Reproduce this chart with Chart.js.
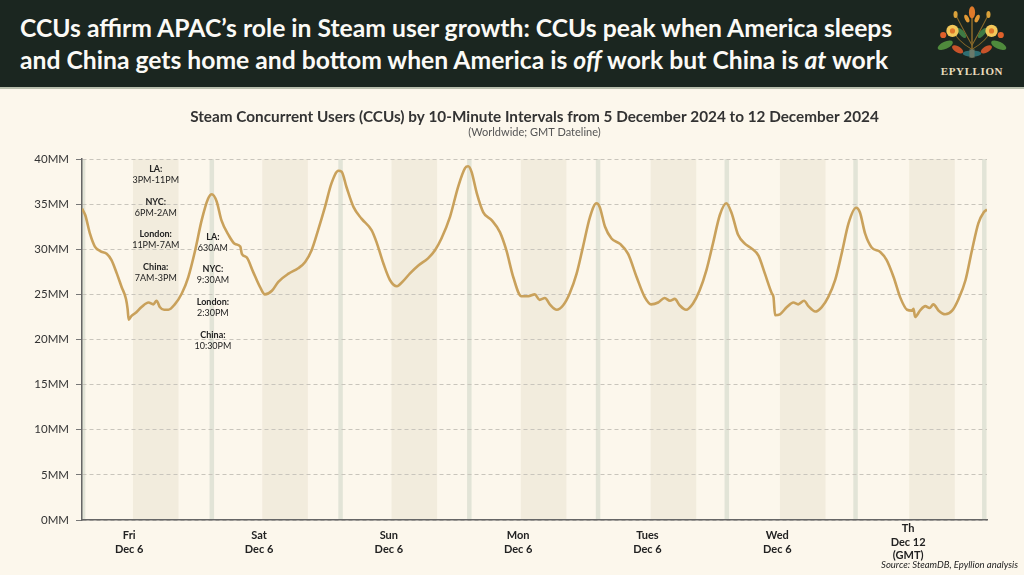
<!DOCTYPE html>
<html><head><meta charset="utf-8">
<script src="https://cdn.jsdelivr.net/npm/chart.js@4.4.1/dist/chart.umd.min.js"></script>
<style>
html,body{margin:0;padding:0}
body{width:1024px;height:575px;background:#fcf7ec;position:relative;overflow:hidden;font-family:Lato,"Open Sans",sans-serif}
#hdr{position:absolute;left:0;top:0;width:1024px;height:87px;background:#1b2620;border-bottom:2px solid #b9bfae;z-index:2}
#ttl{position:absolute;left:20px;top:12px;color:#fbfaf6;font-weight:700;font-size:24.7px;line-height:32px;white-space:nowrap}
#logo{position:absolute;left:935px;top:4px}
#brand{position:absolute;left:932px;top:65px;width:80px;text-align:center;color:#e9dcbc;font:700 11px "Liberation Serif",serif;letter-spacing:0.6px}
#src{position:absolute;right:6px;top:559px;font-style:italic;font-size:9.5px;color:#222}
#c{position:absolute;left:0;top:0}
</style></head>
<body>
<div id="hdr">
  <div id="ttl">CCUs affirm APAC’s role in Steam user growth: CCUs peak when America sleeps<br>and China gets home and bottom when America is <em>off</em> work but China is <em>at</em> work</div>
  <svg id="logo" width="74" height="60" viewBox="0 0 72 58">
    <path d="M36 52 L36 6" stroke="#8a6a2a" stroke-width="1.5"/>
    <path d="M36 44 Q22 36 16 24 M36 44 Q50 36 56 24 M36 40 Q26 22 20 10 M36 40 Q46 22 52 10" stroke="#8a6a2a" stroke-width="1" fill="none"/>
    <ellipse cx="36" cy="8" rx="3" ry="6" fill="#e07a2a"/>
    <ellipse cx="31" cy="14" rx="2" ry="4" fill="#e39a35" transform="rotate(-25 31 14)"/>
    <ellipse cx="41" cy="14" rx="2" ry="4" fill="#e39a35" transform="rotate(25 41 14)"/>
    <ellipse cx="20" cy="10" rx="2" ry="3.5" fill="#d9a13a"/>
    <ellipse cx="52" cy="10" rx="2" ry="3.5" fill="#d9a13a"/>
    <ellipse cx="10" cy="40" rx="8" ry="3.5" fill="#4f8a3c" transform="rotate(-25 10 40)"/>
    <ellipse cx="62" cy="40" rx="8" ry="3.5" fill="#4f8a3c" transform="rotate(25 62 40)"/>
    <ellipse cx="26" cy="28" rx="6" ry="2.5" fill="#3f7a44" transform="rotate(50 26 28)"/>
    <ellipse cx="46" cy="28" rx="6" ry="2.5" fill="#3f7a44" transform="rotate(-50 46 28)"/>
    <ellipse cx="22" cy="44" rx="6" ry="3" fill="#c8532a" transform="rotate(30 22 44)"/>
    <ellipse cx="50" cy="44" rx="6" ry="3" fill="#c8532a" transform="rotate(-30 50 44)"/>
    <ellipse cx="36" cy="48" rx="9" ry="3" fill="#2f6f73"/>
    <circle cx="17" cy="26" r="6" fill="#f3c85a"/><circle cx="17" cy="26" r="2.5" fill="#e0782a"/>
    <circle cx="55" cy="26" r="6" fill="#f3c85a"/><circle cx="55" cy="26" r="2.5" fill="#e0782a"/>
    <circle cx="8" cy="30" r="3" fill="#e0602a"/><circle cx="64" cy="30" r="3" fill="#e0602a"/>
    <rect x="33.5" y="44" width="5" height="8" fill="#6b7a6a"/>
  </svg>
  <div id="brand">EPYLLION</div>
</div>
<canvas id="c" width="1024" height="575"></canvas>
<div id="src">Source: SteamDB, Epyllion analysis</div>
<script>
// hours since the first day marker (Dec 5, ~14:30 GMT)
const hours = [-0.2,0.4,1.3,2.2,3.2,4.4,5.3,6.3,7.2,8.0,8.3,8.5,9.0,9.7,10.9,12.2,13.1,13.7,14.3,15.1,15.9,17.1,18.4,19.6,20.9,22.1,23.3,24.0,24.9,25.8,27.1,28.3,29.3,29.6,30.5,31.7,33.0,33.9,35.2,36.4,38.3,40.1,41.4,42.6,43.8,45.1,46.3,47.6,48.2,49.1,50.4,51.9,53.8,54.7,56.0,57.2,58.5,59.7,60.9,62.5,64.3,65.6,66.8,68.4,69.9,71.2,71.8,72.4,73.4,74.6,76.2,77.7,78.9,80.2,81.7,83.0,84.2,85.1,86.1,87.0,88.3,89.5,90.7,92.0,93.2,94.5,95.7,96.3,97.3,98.5,100.1,101.6,103.2,104.7,105.9,107.2,108.4,109.4,110.3,111.2,112.4,113.7,114.9,116.2,117.4,118.7,119.9,120.9,122.1,123.4,124.6,125.9,127.1,128.4,128.7,129.0,129.9,131.2,132.4,133.3,134.4,135.2,136.5,137.7,138.9,140.2,141.4,142.7,144.1,144.8,145.8,147.0,148.6,149.8,151.1,152.3,153.6,154.5,154.8,155.1,156.0,157.0,157.8,158.5,159.5,160.7,162.0,163.2,164.5,165.7,166.9,167.9,168.5];
// concurrent users, millions
const ccuMM = [34.5,33.8,31.7,30.3,29.8,29.5,28.8,27.3,25.8,24.5,23.4,22.2,22.6,22.9,23.6,24.1,23.9,24.3,23.6,23.3,23.3,23.9,25.1,26.9,29.9,33.2,35.6,36.1,35.3,33.2,31.6,30.6,30.3,29.5,29.1,27.5,25.8,25.0,25.4,26.4,27.3,27.9,28.6,29.9,32.1,34.7,37.3,38.7,38.6,36.9,34.7,33.4,32.1,30.8,28.4,26.6,25.9,26.5,27.3,28.2,29.0,29.9,31.2,33.6,36.9,39.0,39.2,38.6,36.2,34.1,33.2,31.9,29.9,26.9,24.8,24.8,25.0,24.4,24.6,23.9,23.3,23.8,25.1,27.3,30.3,33.6,35.1,34.7,32.5,31.2,30.6,29.5,26.9,24.7,23.9,24.1,24.6,24.3,24.5,23.8,23.3,24.0,25.4,27.7,30.6,33.8,35.1,34.0,31.6,30.6,30.1,29.3,27.3,25.1,24.7,22.7,22.8,23.6,24.1,23.9,24.3,23.7,23.1,23.6,24.7,26.6,29.5,32.9,34.6,34.1,31.7,30.2,29.7,28.8,26.9,24.7,23.3,23.2,23.4,22.5,23.2,23.7,23.5,23.9,23.2,22.8,23.2,24.5,26.6,29.9,32.9,34.1,34.4];
const dayLabels = [["Fri","Dec 6"],["Sat","Dec 6"],["Sun","Dec 6"],["Mon","Dec 6"],["Tues","Dec 6"],["Wed","Dec 6"],["Th","Dec 12","(GMT)"]];
const labelHours = [8.6,32.8,57.0,81.1,105.2,129.4,153.8];
const dayMarkHours = [0,24,48,72,96,120,144,168];
const workBandStart = [9.3,33.4,57.5,81.6,105.8,129.9,154.0];
const workBandLength = 8.5;
const nightNotes = [["LA:","3PM-11PM"],["NYC:","6PM-2AM"],["London:","11PM-7AM"],["China:","7AM-3PM"]];
const peakNotes = [["LA:","630AM"],["NYC:","9:30AM"],["London:","2:30PM"],["China:","10:30PM"]];

const FONT = 'Lato, "Open Sans", sans-serif';

const backdrop = {
  id: 'backdrop',
  beforeDraw(chart) {
    const {ctx, chartArea: a, scales: {x}} = chart;
    ctx.save();
    ctx.beginPath(); ctx.rect(a.left, a.top, a.right - a.left, a.bottom - a.top); ctx.clip();
    ctx.fillStyle = '#f2ecdd';
    workBandStart.forEach(s => {
      const x0 = x.getPixelForValue(s), x1 = x.getPixelForValue(s + workBandLength);
      ctx.fillRect(x0, a.top, x1 - x0, a.bottom - a.top);
    });
    ctx.strokeStyle = '#e2e4d7'; ctx.lineWidth = 4.5;
    dayMarkHours.forEach(h => {
      const px = x.getPixelForValue(h);
      ctx.beginPath(); ctx.moveTo(px, a.top); ctx.lineTo(px, a.bottom); ctx.stroke();
    });
    ctx.restore();
  }
};

const noteGroups = [
  {notes: nightNotes, x: (workBandStart[0] + workBandStart[0] + workBandLength) / 2, y: 38.9, step: 3.63},
  {notes: peakNotes, x: dayMarkHours[1] + 0.2, y: 31.4, step: 3.62}
];
const notes = {
  id: 'notes',
  afterDatasetsDraw(chart) {
    const {ctx, scales: {x, y}} = chart;
    ctx.save();
    ctx.textAlign = 'center'; ctx.textBaseline = 'middle'; ctx.fillStyle = '#222';
    noteGroups.forEach(g => {
      const px = x.getPixelForValue(g.x);
      g.notes.forEach((n, i) => {
        const py = y.getPixelForValue(g.y - i * g.step);
        ctx.font = 'bold 9px ' + FONT; ctx.fillText(n[0], px, py);
        ctx.font = '9px ' + FONT; ctx.fillText(n[1], px, py + 11);
      });
    });
    ctx.restore();
  }
};

new Chart(document.getElementById('c'), {
  type: 'line',
  data: {
    datasets: [{
      label: 'CCUs',
      data: hours.map((h, i) => ({x: h, y: ccuMM[i]})),
      borderColor: '#c9a15b',
      borderWidth: 2.6,
      pointRadius: 0,
      cubicInterpolationMode: 'monotone',
      fill: false
    }]
  },
  options: {
    responsive: false,
    animation: false,
    layout: {padding: {left: 0, right: 37, top: 0, bottom: 0}},
    plugins: {
      legend: {display: false},
      tooltip: {enabled: false},
      title: {
        display: true,
        fullSize: false,
        text: 'Steam Concurrent Users (CCUs) by 10-Minute Intervals from 5 December 2024 to 12 December 2024',
        color: '#333',
        font: {family: FONT, size: 15.3, weight: 'bold', lineHeight: 1.2},
        padding: {top: 107.5, bottom: 0}
      },
      subtitle: {
        display: true,
        fullSize: false,
        text: '(Worldwide; GMT Dateline)',
        color: '#555',
        font: {family: FONT, size: 11, lineHeight: 1.2},
        padding: {top: 0, bottom: 20}
      }
    },
    scales: {
      x: {
        type: 'linear',
        min: -0.2,
        max: 168.5,
        afterBuildTicks: s => { s.ticks = labelHours.map(v => ({value: v})); },
        afterFit: s => { s.height = 55; },
        grid: {display: false, drawTicks: false},
        border: {display: true, color: '#666', width: 1.5},
        ticks: {
          autoSkip: false,
          maxRotation: 0,
          padding: 8,
          crossAlign: 'center',
          color: '#222',
          font: {family: FONT, size: 11, weight: 'bold', lineHeight: 1.27},
          callback: (v, i) => dayLabels[i]
        }
      },
      y: {
        min: 0,
        max: 40,
        afterFit: s => { s.width = 82; },
        grid: {color: '#c9c5bc', lineWidth: 1, drawTicks: true, tickLength: 6, tickColor: '#777', tickBorderDash: []},
        border: {display: true, color: '#666', width: 1.5, dash: [4, 3]},
        ticks: {
          stepSize: 5,
          padding: 7,
          color: '#333',
          font: {family: FONT, size: 11.5},
          callback: v => v + 'MM'
        }
      }
    }
  },
  plugins: [backdrop, notes]
});
</script>
</body></html>
